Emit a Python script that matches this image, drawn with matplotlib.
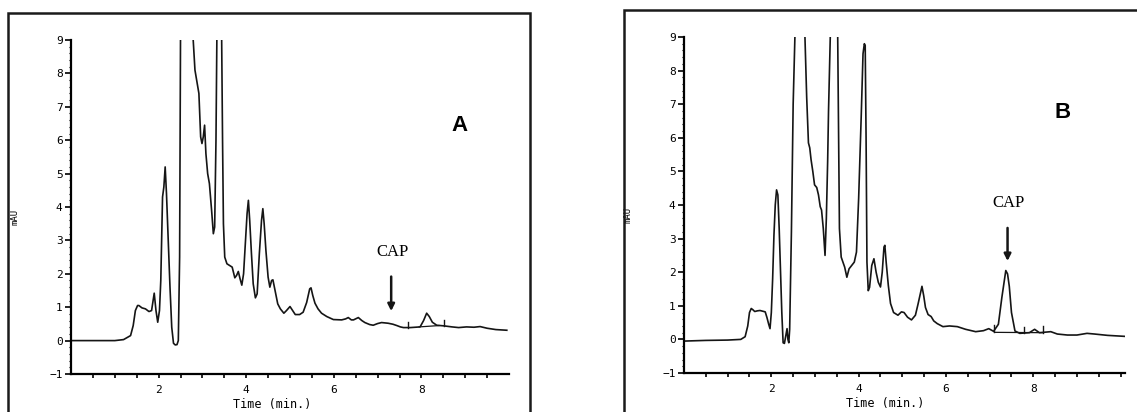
import numpy as np
import matplotlib
matplotlib.use("Agg")
import matplotlib.pyplot as plt
from matplotlib.patches import Rectangle

# chromatogram A (blank) - time in min, signal in mAU
time_a = [0.0, 0.5, 1.0, 1.2, 1.36, 1.42, 1.47, 1.52, 1.55, 1.62, 1.70, 1.78, 1.84,
          1.90, 1.94, 1.98, 2.02, 2.05, 2.09, 2.12, 2.15, 2.18, 2.22, 2.26, 2.30,
          2.34, 2.38, 2.42, 2.45, 2.48, 2.50, 2.52, 2.77, 2.79, 2.83, 2.88, 2.92,
          2.96, 2.99, 3.02, 3.05, 3.08, 3.12, 3.16, 3.21, 3.25, 3.28, 3.31, 3.33,
          3.35, 3.42, 3.44, 3.46, 3.48, 3.51, 3.56, 3.62, 3.68, 3.74, 3.78, 3.82,
          3.86, 3.90, 3.94, 3.98, 4.02, 4.05, 4.08, 4.12, 4.16, 4.21, 4.25, 4.30,
          4.35, 4.38, 4.41, 4.45, 4.50, 4.54, 4.58, 4.61, 4.66, 4.72, 4.78, 4.86,
          4.92, 5.00, 5.06, 5.12, 5.22, 5.30, 5.38, 5.45, 5.48, 5.52, 5.57, 5.64,
          5.72, 5.84, 5.99, 6.18, 6.27, 6.33, 6.40, 6.45, 6.56, 6.64, 6.71, 6.82,
          6.90, 7.00, 7.09, 7.24, 7.35, 7.44, 7.52, 7.59, 7.75, 7.97, 8.05, 8.12,
          8.18, 8.25, 8.35, 8.52, 8.70, 8.85, 9.03, 9.20, 9.34, 9.50, 9.70, 9.95]
mau_a = [0.0, 0.0, 0.0, 0.03, 0.15, 0.45, 0.9, 1.05, 1.05, 0.98, 0.95, 0.87, 0.9,
         1.42, 0.9, 0.55, 0.9, 1.8, 4.3, 4.6, 5.2, 4.4, 3.0, 1.6, 0.4,
         -0.08, -0.13, -0.12, 0.0, 2.5, 9.0, 12.0, 12.0, 9.0, 8.1, 7.7, 7.4,
         6.1, 5.9, 6.1, 6.45, 5.6, 5.0, 4.7, 3.9, 3.2, 3.4, 6.0, 9.0,
         12.0, 12.0, 9.0, 6.0, 3.5, 2.5, 2.3, 2.25, 2.2, 1.88, 1.95, 2.07,
         1.85, 1.66, 2.0, 2.9, 3.8, 4.2, 3.6, 2.6, 1.7, 1.28, 1.4, 2.6,
         3.6, 3.95, 3.5, 2.7, 1.9, 1.6, 1.8, 1.82, 1.5, 1.1, 0.95, 0.82,
         0.9, 1.02, 0.9, 0.78, 0.78, 0.85, 1.14, 1.55, 1.58, 1.35, 1.12, 0.95,
         0.82, 0.72, 0.63, 0.62, 0.65, 0.69, 0.62, 0.62, 0.69, 0.6, 0.54, 0.48,
         0.46, 0.51, 0.54, 0.52, 0.49, 0.45, 0.41, 0.39, 0.39, 0.41, 0.6, 0.82,
         0.72, 0.55, 0.46, 0.44, 0.41, 0.39, 0.41, 0.40, 0.42, 0.37, 0.33, 0.31]

# chromatogram B (spiked sample)
time_b = [0.0, 0.5, 1.0, 1.3, 1.40, 1.46, 1.50, 1.54, 1.58, 1.62, 1.68, 1.74, 1.80,
          1.86, 1.90, 1.94, 1.97, 2.00, 2.03, 2.06, 2.09, 2.12, 2.15, 2.18, 2.21,
          2.24, 2.27, 2.30, 2.33, 2.36, 2.38, 2.40, 2.42, 2.46, 2.50, 2.54, 2.56,
          2.75, 2.77, 2.81, 2.85, 2.88, 2.91, 2.95, 2.99, 3.04, 3.08, 3.12, 3.15,
          3.19, 3.23, 3.26, 3.29, 3.31, 3.35, 3.37, 3.50, 3.52, 3.54, 3.56, 3.60,
          3.68, 3.73, 3.78, 3.84, 3.90, 3.95, 4.00, 4.06, 4.10, 4.13, 4.15, 4.17,
          4.19, 4.22, 4.25, 4.30, 4.35, 4.40, 4.45, 4.50, 4.54, 4.58, 4.60, 4.63,
          4.68, 4.73, 4.80, 4.90, 4.98, 5.04, 5.12, 5.21, 5.30, 5.36, 5.41, 5.45,
          5.49, 5.53, 5.59, 5.66, 5.72, 5.80, 5.93, 6.08, 6.26, 6.45, 6.68, 6.86,
          6.98, 7.09, 7.20, 7.28, 7.37, 7.41, 7.45, 7.50, 7.58, 7.69, 7.91, 8.03,
          8.14, 8.40, 8.55, 8.78, 9.00, 9.23, 9.40, 9.70, 10.1]
mau_b = [-0.05, -0.03, -0.02, 0.0, 0.08, 0.4, 0.8, 0.92, 0.88, 0.83, 0.85, 0.86, 0.84,
         0.82, 0.65, 0.45, 0.32, 0.8, 1.8, 3.1, 4.0, 4.45, 4.3, 3.3, 2.1,
         0.8, -0.1, -0.12, 0.1, 0.32, 0.0, -0.1, 0.3, 3.2, 7.0, 9.0, 12.0,
         12.0, 9.0, 7.2, 5.85, 5.7, 5.35, 5.0, 4.6, 4.52, 4.3, 3.95, 3.85,
         3.3, 2.5, 3.6, 5.3, 6.8, 9.0, 12.0, 12.0, 9.0, 6.2, 3.3, 2.45,
         2.15, 1.85, 2.1, 2.2, 2.3, 2.6, 4.2, 6.7, 8.5, 8.8, 8.75, 6.0,
         2.3, 1.45, 1.55, 2.2, 2.4, 2.0, 1.7, 1.56, 2.0, 2.75, 2.8, 2.3,
         1.6, 1.07, 0.8, 0.72, 0.82, 0.8, 0.66, 0.58, 0.72, 1.05, 1.35, 1.58,
         1.3, 0.95, 0.74, 0.68, 0.55, 0.47, 0.38, 0.40, 0.38, 0.30, 0.23, 0.26,
         0.32, 0.24, 0.45, 1.25, 2.05, 1.95, 1.58, 0.8, 0.25, 0.18, 0.2, 0.3,
         0.2, 0.23, 0.16, 0.13, 0.13, 0.18, 0.16, 0.12, 0.09]

# integrator marks (time, base, top) and baselines drawn under peaks
marks_a = [(7.70, 0.39, 0.56), (8.52, 0.44, 0.62)]
base_a = ([7.95, 8.40], [0.41, 0.45])
marks_b = [(7.11, 0.22, 0.42), (7.79, 0.19, 0.38), (8.23, 0.20, 0.40)]
base_b = ([7.11, 8.23], [0.21, 0.20])

# CAP label: arrow x, arrow top, arrow tip
cap_a = (7.31, 2.0, 0.8)
cap_b = (7.41, 3.4, 2.25)

W, H = 1137, 412
fig = plt.figure(figsize=(W / 100, H / 100), dpi=100)

# frames around each panel (they run off the page)
fig.patches.append(Rectangle((8 / W, -0.2), 522 / W, 1.2 - 13 / H, transform=fig.transFigure,
                             fill=False, lw=1.8, ec='#1a1a1a'))
fig.patches.append(Rectangle((624 / W, -0.2), 0.6, 1.2 - 10 / H, transform=fig.transFigure,
                             fill=False, lw=1.8, ec='#1a1a1a'))

mono = 'DejaVu Sans Mono'


def panel(rect, t, y, xmax, marks, base, cap, letter, letter_pos):
    ax = fig.add_axes(rect)
    ax.plot(t, y, color='#151515', lw=1.2)
    for xm, y0, y1 in marks:
        ax.plot([xm, xm], [y0, y1], color='#151515', lw=1.0)
    ax.plot(base[0], base[1], color='#151515', lw=0.9)
    ax.set_xlim(0, xmax)
    ax.set_ylim(-1, 9)
    ax.spines['top'].set_visible(False)
    ax.spines['right'].set_visible(False)
    ax.spines['left'].set_linewidth(1.6)
    ax.spines['bottom'].set_linewidth(1.6)
    ax.set_xticks([2, 4, 6, 8])
    ax.set_xticks(np.arange(0.5, xmax, 0.5), minor=True)
    ax.set_yticks(range(-1, 10))
    ax.set_yticks(np.arange(-1, 9, 0.2), minor=True)
    ax.tick_params(axis='x', which='both', direction='out', length=3, width=1.2, labelsize=8, pad=5)
    ax.tick_params(axis='y', which='major', direction='out', length=4, width=1.2, labelsize=8, pad=2)
    ax.tick_params(axis='y', which='minor', direction='out', length=1.5, width=0.8)
    for lab in ax.get_xticklabels() + ax.get_yticklabels():
        lab.set_family(mono)
    ax.text(-0.128, 0.47, 'mAU', transform=ax.transAxes, rotation=90,
            ha='center', va='center', fontsize=6.5, family=mono)
    # axis title sits just above the bottom edge of the page
    ax.text(4.6, -0.092, 'Time (min.)', transform=ax.get_xaxis_transform(),
            ha='center', va='center', fontsize=8.5, family=mono)
    ax.annotate('', xy=(cap[0], cap[2]), xytext=(cap[0], cap[1]),
                arrowprops=dict(arrowstyle='-|>', lw=1.8, color='#151515', mutation_scale=10))
    ax.text(cap[0] + 0.03, cap[1] + 0.65, 'CAP', ha='center', va='center',
            fontsize=12, family='Liberation Serif')
    ax.text(letter_pos[0], letter_pos[1], letter, ha='center', va='center',
            fontsize=16, fontweight='bold', family='Liberation Sans')
    return ax


panel([71 / W, 1 - 374 / H, 438 / W, 334 / H], time_a, mau_a, 10.0,
      marks_a, base_a, cap_a, 'A', (8.87, 6.45))
panel([684 / W, 1 - 373 / H, 441 / W, 336 / H], time_b, mau_b, 10.1,
      marks_b, base_b, cap_b, 'B', (8.68, 6.74))

plt.savefig('out.png', dpi=100)
